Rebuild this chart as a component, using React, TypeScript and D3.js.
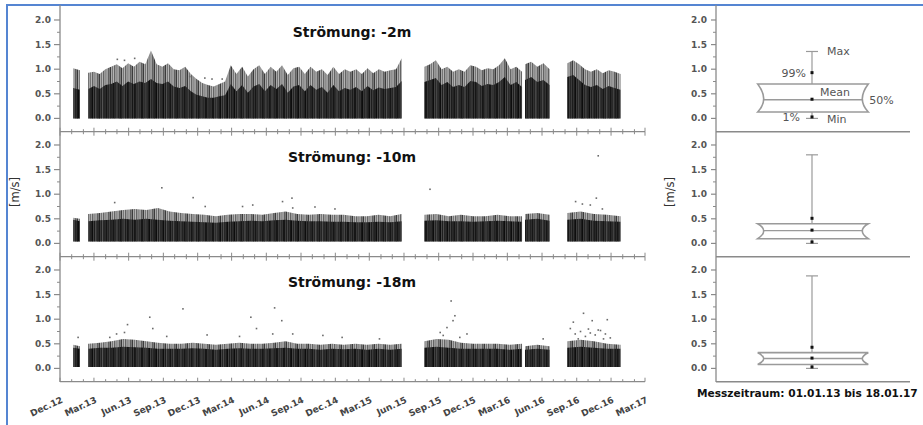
import * as d3 from "d3";

const FONT = "'DejaVu Sans', Verdana, sans-serif";

// time axis (quarterly labels)
const xTickDates = ["2012-12-01", "2013-03-01", "2013-06-01", "2013-09-01", "2013-12-01", "2014-03-01", "2014-06-01", "2014-09-01", "2014-12-01", "2015-03-01", "2015-06-01", "2015-09-01", "2015-12-01", "2016-03-01", "2016-06-01", "2016-09-01", "2016-12-01", "2017-03-01"];
const xTickLabels = ["Dec.12", "Mar.13", "Jun.13", "Sep.13", "Dec.13", "Mar.14", "Jun.14", "Sep.14", "Dec.14", "Mar.15", "Jun.15", "Sep.15", "Dec.15", "Mar.16", "Jun.16", "Sep.16", "Dec.16", "Mar.17"];
const yTicks = [0, 0.5, 1, 1.5, 2];
const yMinor = [0.25, 0.75, 1.25, 1.75];

// measuring periods (gaps between them)
const segStart = ["2013-01-05", "2013-02-14", "2015-07-25", "2016-04-17", "2016-08-07"];
const segEnd = ["2013-01-23", "2015-05-26", "2016-04-09", "2016-06-21", "2016-12-26"];

const titles = ["Strömung: -2m", "Strömung: -10m", "Strömung: -18m"];
const lowLevel = [0.0, 0.04, 0.03];

// -2m: upper envelope (spikes) and top of the dense core, per period
const topM2 = [
  [1.02, 0.98],
  [0.93, 0.95, 0.9, 1.0, 1.05, 1.1, 1.02, 1.12, 1.05, 1.15, 1.1, 1.38, 1.1, 1.05, 1.12, 1.0, 0.98, 1.05, 0.9, 0.8, 0.72, 0.68, 0.65, 0.7, 0.75, 1.08, 0.9, 1.05, 0.85, 1.0, 1.08, 0.9, 1.05, 0.95, 1.08, 0.88, 1.02, 1.05, 0.9, 1.05, 0.95, 1.0, 0.88, 1.05, 0.9, 1.0, 0.95, 1.0, 0.9, 1.02, 0.92, 1.0, 0.95, 0.98, 1.0, 1.22],
  [1.05, 1.1, 1.18, 1.0, 1.05, 0.95, 1.0, 0.95, 1.08, 1.05, 0.98, 1.02, 1.0, 1.08, 1.22, 1.0, 1.05, 0.95],
  [1.1, 1.15, 1.05, 1.12, 1.0],
  [1.12, 1.18, 1.1, 1.0, 0.95, 1.0, 0.92, 0.98, 0.95, 0.9],
];
const coreM2 = [
  [0.62, 0.58],
  [0.6, 0.66, 0.6, 0.68, 0.7, 0.75, 0.66, 0.75, 0.7, 0.75, 0.72, 0.8, 0.72, 0.7, 0.75, 0.65, 0.62, 0.66, 0.55, 0.48, 0.45, 0.42, 0.42, 0.45, 0.47, 0.7, 0.55, 0.68, 0.52, 0.65, 0.7, 0.55, 0.68, 0.6, 0.7, 0.52, 0.65, 0.68, 0.55, 0.68, 0.58, 0.64, 0.52, 0.68, 0.55, 0.62, 0.58, 0.64, 0.55, 0.66, 0.57, 0.63, 0.6, 0.62, 0.64, 0.76],
  [0.74, 0.78, 0.82, 0.68, 0.74, 0.64, 0.68, 0.64, 0.76, 0.74, 0.66, 0.7, 0.68, 0.74, 0.84, 0.68, 0.74, 0.64],
  [0.78, 0.84, 0.74, 0.78, 0.68],
  [0.84, 0.88, 0.78, 0.68, 0.64, 0.68, 0.6, 0.66, 0.62, 0.58],
];

// -10m
const topM10 = [
  [0.52, 0.5],
  [0.6, 0.62, 0.65, 0.68, 0.7, 0.68, 0.72, 0.65, 0.62, 0.6, 0.58, 0.55, 0.58, 0.6, 0.6, 0.58, 0.62, 0.65, 0.6, 0.58, 0.6, 0.58, 0.58, 0.55, 0.55, 0.58, 0.55, 0.6],
  [0.58, 0.6, 0.55, 0.58, 0.55, 0.55, 0.58, 0.55, 0.55],
  [0.6, 0.62, 0.58],
  [0.62, 0.65, 0.6, 0.58, 0.55],
];
const coreM10 = [
  [0.48, 0.45],
  [0.45, 0.47, 0.48, 0.5, 0.48, 0.5, 0.48, 0.46, 0.45, 0.44, 0.43, 0.42, 0.44, 0.45, 0.46, 0.45, 0.47, 0.48, 0.46, 0.45, 0.45, 0.44, 0.44, 0.43, 0.43, 0.44, 0.43, 0.45],
  [0.46, 0.47, 0.45, 0.45, 0.44, 0.45, 0.46, 0.45, 0.44],
  [0.48, 0.5, 0.46],
  [0.48, 0.5, 0.46, 0.45, 0.44],
];

// -18m
const topM18 = [
  [0.48, 0.45],
  [0.5, 0.52, 0.55, 0.6, 0.58, 0.55, 0.52, 0.5, 0.5, 0.52, 0.5, 0.48, 0.5, 0.52, 0.5, 0.5, 0.52, 0.55, 0.5, 0.5, 0.48, 0.5, 0.48, 0.5, 0.48, 0.5, 0.48, 0.5],
  [0.55, 0.6, 0.58, 0.52, 0.5, 0.5, 0.5, 0.48, 0.5],
  [0.45, 0.48, 0.45],
  [0.55, 0.58, 0.55, 0.5, 0.48],
];
const coreM18 = [
  [0.42, 0.4],
  [0.4, 0.42, 0.42, 0.44, 0.43, 0.42, 0.4, 0.4, 0.4, 0.41, 0.4, 0.38, 0.4, 0.41, 0.4, 0.4, 0.41, 0.42, 0.4, 0.4, 0.38, 0.4, 0.39, 0.4, 0.38, 0.4, 0.38, 0.4],
  [0.42, 0.44, 0.42, 0.4, 0.4, 0.4, 0.4, 0.38, 0.4],
  [0.38, 0.4, 0.38],
  [0.42, 0.44, 0.42, 0.4, 0.4],
];

// isolated points above the dense band
const outM2: [string, number][] = [["2013-05-02", 1.2], ["2013-05-21", 1.18], ["2013-06-17", 1.22], ["2013-11-10", 0.85], ["2013-12-20", 0.82], ["2014-01-08", 0.8], ["2014-02-04", 0.8]];
const outM10: [string, number][] = [["2013-04-25", 0.83], ["2013-08-28", 1.13], ["2013-11-19", 0.93], ["2013-12-21", 0.75], ["2014-03-30", 0.75], ["2014-04-26", 0.78], ["2014-07-14", 0.85], ["2014-08-08", 0.92], ["2014-08-10", 0.72], ["2014-10-08", 0.74], ["2014-11-30", 0.7], ["2015-08-09", 1.1], ["2016-08-29", 0.85], ["2016-09-16", 0.8], ["2016-10-07", 0.78], ["2016-10-23", 0.92], ["2016-10-28", 1.78], ["2016-11-08", 0.7]];
const outM18: [string, number][] = [["2013-01-18", 0.63], ["2013-04-12", 0.63], ["2013-04-30", 0.7], ["2013-05-21", 0.73], ["2013-05-29", 0.89], ["2013-07-27", 1.04], ["2013-08-04", 0.81], ["2013-09-10", 0.65], ["2013-10-23", 1.21], ["2013-12-26", 0.68], ["2014-03-22", 0.65], ["2014-04-21", 1.04], ["2014-05-06", 0.81], ["2014-06-18", 0.7], ["2014-06-23", 1.23], ["2014-07-12", 0.97], ["2014-08-10", 0.7], ["2014-10-29", 0.67], ["2014-12-19", 0.63], ["2015-03-28", 0.6], ["2015-09-05", 0.73], ["2015-09-13", 0.67], ["2015-09-23", 0.83], ["2015-10-04", 1.37], ["2015-10-09", 0.97], ["2015-10-14", 1.07], ["2015-10-27", 0.63], ["2015-11-15", 0.7], ["2016-06-04", 0.6], ["2016-08-15", 0.81], ["2016-08-23", 0.94], ["2016-08-28", 0.7], ["2016-09-05", 0.6], ["2016-09-11", 0.75], ["2016-09-19", 1.12], ["2016-09-24", 0.65], ["2016-10-02", 0.8], ["2016-10-07", 0.72], ["2016-10-12", 0.97], ["2016-10-20", 0.68], ["2016-10-28", 0.78], ["2016-11-03", 0.77], ["2016-11-11", 0.6], ["2016-11-16", 0.7], ["2016-11-21", 0.99], ["2016-11-29", 0.62]];

// box statistics per depth
const boxMin = [0.0, 0.0, 0.0];
const boxP1 = [0.03, 0.03, 0.03];
const boxQ1 = [0.13, 0.095, 0.08];
const boxMedian = [0.38, 0.26, 0.2];
const boxMean = [0.39, 0.27, 0.21];
const boxQ3 = [0.7, 0.4, 0.32];
const boxP99 = [0.93, 0.51, 0.43];
const boxMax = [1.36, 1.8, 1.88];

const tops = [topM2, topM10, topM18];
const cores = [coreM2, coreM10, coreM18];
const outs = [outM2, outM10, outM18];

// stripe shades used for the scatter texture
const upperStripes: [number, number, string][] = [[0, 1.2, "#3a3a3a"], [1.2, 1, "#9c9c9c"], [2.2, 0.8, "#555"], [3, 1.3, "#b4b4b4"], [4.3, 1, "#2a2a2a"], [5.3, 1.4, "#8a8a8a"], [6.7, 0.9, "#444"], [7.6, 1.2, "#a8a8a8"], [8.8, 1, "#333"], [9.8, 1.2, "#7a7a7a"]];
const coreStripes: [number, number, string][] = [[0, 1, "#101010"], [1, 0.8, "#3c3c3c"], [1.8, 1.4, "#181818"], [3.2, 0.7, "#4a4a4a"], [3.9, 1.3, "#0c0c0c"], [5.2, 0.9, "#2e2e2e"], [6.1, 1, "#151515"]];

export default function App() {
  const x = d3.scaleUtc().domain([new Date("2012-12-01"), new Date("2017-03-01")]).range([60, 645]);
  const panelTop = [6.7, 131.7, 256.7];
  const panelH = 125;
  const ys = panelTop.map(t => d3.scaleLinear().domain([-0.27, 2.27]).range([t + panelH, t]));
  const bx = d3.scaleLinear().domain([0, 1]).range([716, 910]);
  const months = d3.utcMonth.range(new Date("2012-12-01"), new Date("2017-03-02"));
  const fmt = d3.format(".1f");
  const axisCol = "#8a8a8a";

  type P = { t: Date; top: number; core: number };

  return (
    <svg width={923} height={425} style={{ position: "absolute", left: 0, top: 0, background: "#fff" }} fontFamily={FONT}>
      <defs>
        <pattern id="upper" width={11} height={6} patternUnits="userSpaceOnUse">
          {upperStripes.map(([sx, w, c], i) => <rect key={i} x={sx} width={w} height={6} fill={c} />)}
        </pattern>
        <pattern id="core" width={7.1} height={6} patternUnits="userSpaceOnUse">
          {coreStripes.map(([sx, w, c], i) => <rect key={i} x={sx} width={w} height={6} fill={c} />)}
        </pattern>
        <filter id="soft"><feGaussianBlur stdDeviation={0.4} /></filter>
      </defs>
      <rect x={7} y={5} width={940} height={440} fill="none" stroke="#5585d2" strokeWidth={2} />

      {panelTop.map((pt, p) => {
        const y = ys[p];
        const low = lowLevel[p];
        return (
          <g key={p}>
            {/* dense band */}
            <g filter="url(#soft)">
              {segStart.map((s, si) => {
                const t0 = +new Date(s), t1 = +new Date(segEnd[si]);
                const tv = tops[p][si], cv = cores[p][si];
                const n = tv.length;
                const pts: P[] = tv.map((v, i) => ({ t: new Date(t0 + ((t1 - t0) * i) / (n - 1)), top: v, core: cv[i] }));
                const upper = d3.area<P>().x(d => x(d.t)).y0(y(low)).y1(d => y(d.top));
                const lower = d3.area<P>().x(d => x(d.t)).y0(y(low)).y1(d => y(d.core));
                return (
                  <g key={si}>
                    <path d={upper(pts) ?? ""} fill="url(#upper)" />
                    <path d={lower(pts) ?? ""} fill="url(#core)" />
                  </g>
                );
              })}
              {outs[p].map(([d, v], i) => (
                <rect key={i} x={x(new Date(d)) - 0.8} y={y(v) - 0.8} width={1.6} height={1.6} fill="#6a6a6a" />
              ))}
            </g>

            <text x={352} y={pt + 30.5} textAnchor="middle" fontSize={14} fontWeight="bold" fill="#111">{titles[p]}</text>

            {/* y ticks, left and right panels */}
            {yTicks.map(v => (
              <g key={v}>
                <line x1={54} x2={60} y1={y(v)} y2={y(v)} stroke={axisCol} strokeWidth={1.2} />
                <text x={51} y={y(v) + 3} textAnchor="end" fontSize={9} fontWeight="bold" fill="#555">{fmt(v)}</text>
                <line x1={711} x2={716} y1={y(v)} y2={y(v)} stroke={axisCol} strokeWidth={1.2} />
                <text x={707} y={y(v) + 3} textAnchor="end" fontSize={9} fontWeight="bold" fill="#555">{fmt(v)}</text>
              </g>
            ))}
            {yMinor.map(v => (
              <g key={v}>
                <line x1={57} x2={60} y1={y(v)} y2={y(v)} stroke={axisCol} strokeWidth={1} />
                <line x1={713} x2={716} y1={y(v)} y2={y(v)} stroke={axisCol} strokeWidth={1} />
              </g>
            ))}

            {/* bottom time axis of panel, ticks inward */}
            <line x1={60} x2={645} y1={pt + panelH} y2={pt + panelH} stroke={axisCol} strokeWidth={1.3} />
            {months.map((m, i) => {
              const major = m.getUTCMonth() % 3 === 2;
              const yy = pt + panelH;
              const len = major ? 4 : 2.5;
              return (
                <g key={i}>
                  <line x1={x(m)} x2={x(m)} y1={yy} y2={yy - len} stroke={axisCol} strokeWidth={1} />
                  {p > 0 && <line x1={x(m)} x2={x(m)} y1={pt} y2={pt + len} stroke={axisCol} strokeWidth={1} />}
                </g>
              );
            })}

            {/* box chart */}
            {(() => {
              const x0 = bx(0.5 - 0.285), x1 = bx(0.5 + 0.285), xc = bx(0.5) - 1;
              const yq1 = y(boxQ1[p]), yq3 = y(boxQ3[p]), ym = y(boxMedian[p]);
              const box = `M${x0},${yq3} L${x1},${yq3} Q${x1 - 12},${ym} ${x1},${yq1} L${x0},${yq1} Q${x0 + 12},${ym} ${x0},${yq3} Z`;
              const c = "#9a9a9a";
              return (
                <g>
                  <line x1={716} x2={910} y1={pt + panelH} y2={pt + panelH} stroke={axisCol} strokeWidth={1.5} />
                  <line x1={xc} x2={xc} y1={yq3} y2={y(boxMax[p])} stroke={c} strokeWidth={1.2} />
                  <line x1={xc} x2={xc} y1={yq1} y2={y(boxMin[p])} stroke={c} strokeWidth={1.2} />
                  <line x1={xc - 6} x2={xc + 6} y1={y(boxMax[p])} y2={y(boxMax[p])} stroke={c} strokeWidth={1.2} />
                  <line x1={xc - 6} x2={xc + 6} y1={y(boxMin[p])} y2={y(boxMin[p])} stroke={c} strokeWidth={1.2} />
                  <path d={box} fill="#fff" stroke={c} strokeWidth={1.6} />
                  <line x1={x0 + 6} x2={x1 - 6} y1={ym} y2={ym} stroke={c} strokeWidth={1.4} />
                  {[boxP99[p], boxMean[p], boxP1[p]].map((v, i) => (
                    <rect key={i} x={xc - 1.5} y={y(v) - 1.5} width={3} height={3} fill="#111" />
                  ))}
                  {p === 0 && (
                    <g fontSize={11} fill="#555">
                      <text x={xc + 15} y={y(boxMax[p]) + 4}>Max</text>
                      <text x={xc - 6} y={y(boxP99[p]) + 4} textAnchor="end">99%</text>
                      <text x={xc + 8} y={y(boxMean[p]) - 3}>Mean</text>
                      <text x={x1 + 1} y={ym + 4.5}>50%</text>
                      <text x={xc - 12} y={y(boxP1[p]) + 4} textAnchor="end">1%</text>
                      <text x={xc + 15} y={y(boxMin[p]) + 5}>Min</text>
                    </g>
                  )}
                </g>
              );
            })()}
          </g>
        );
      })}

      {/* axis lines */}
      <line x1={60} x2={60} y1={5} y2={382} stroke={axisCol} strokeWidth={1.3} />
      <line x1={716} x2={716} y1={5} y2={382} stroke={axisCol} strokeWidth={1.3} />

      {xTickDates.map((d, i) => (
        <text key={i} transform={`translate(${x(new Date(d)) + 3.5},402) rotate(-25)`} textAnchor="end" fontSize={9} fontWeight="bold" fill="#444">
          {xTickLabels[i]}
        </text>
      ))}

      <text transform="translate(19,192) rotate(-90)" textAnchor="middle" fontSize={11.5} fill="#333">[m/s]</text>
      <text transform="translate(674,192) rotate(-90)" textAnchor="middle" fontSize={11.5} fill="#333">[m/s]</text>

      <text x={697} y={397} fontSize={10.6} fontWeight="bold" fill="#111">Messzeitraum: 01.01.13 bis 18.01.17</text>
    </svg>
  );
}
